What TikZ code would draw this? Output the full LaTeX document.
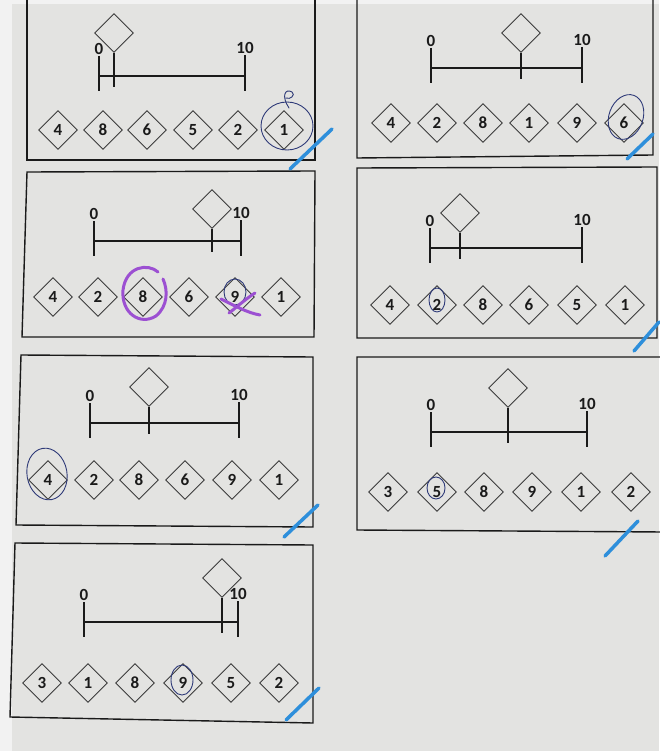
\documentclass[tikz,border=0pt]{standalone}
\usepackage{fontspec}
\setmainfont{Carlito}
\usetikzlibrary{shapes.geometric}
\definecolor{paper}{HTML}{E3E3E1}
\definecolor{strip}{HTML}{F2F2F2}
\definecolor{ink}{HTML}{1A1A1A}
\definecolor{tickblue}{HTML}{2E8FDB}
\definecolor{penblue}{HTML}{2E3A78}
\definecolor{penpurple}{HTML}{9C50D2}
\tikzset{
  boxline/.style={draw=ink, line width=1.4pt},
  numline/.style={draw=ink, line width=1.5pt},
  stemline/.style={draw=ink, line width=1.2pt},
  cell/.style={diamond, draw=ink!85, line width=0.9pt, minimum width=39pt, minimum height=39pt, inner sep=0pt, font=\bfseries\fontsize{17}{18}\selectfont, text=ink},
  lab/.style={anchor=south, inner sep=1pt, font=\bfseries\fontsize{17}{18}\selectfont, text=ink},
  okmark/.style={draw=tickblue, line width=3.5pt, line cap=round},
  pen/.style={draw=penblue, line width=0.9pt, line cap=round},
  purplepen/.style={draw=penpurple, line width=3pt, line cap=round, line join=round},
}
\newcommand\panel[8]{%
  \coordinate (#1L) at (#2,#4);
  \coordinate (#1R) at (#3,#4);
  \coordinate (#1Lt) at (#2,#4-20);
  \coordinate (#1Lb) at (#2,#4+15);
  \coordinate (#1Rt) at (#3,#4-21);
  \coordinate (#1Rb) at (#3,#4+15);
  \draw[numline] (#1L) -- (#1R);
  \draw[numline] (#1Lt) -- (#1Lb);
  \draw[numline] (#1Rt) -- (#1Rb);
  \node[lab] (#1zero) at (#1Lt) {0};
  \node[lab] (#1ten) at (#1Rt) {10};
  \node[cell] (#1m) at (#5,#6) {};
  \coordinate (#1mb) at (#5,#4+11);
  \draw[stemline] (#1m.south) -- (#1mb);
  \foreach \xx/\tt [count=\ii] in {#8} {\node[cell] (#1c\ii) at (\xx,#7) {\tt};}
}
\begin{document}
\begin{tikzpicture}[x=1pt,y=-1pt]
\useasboundingbox (0,0) rectangle (659,751);
\fill[strip] (0,0) rectangle (659,751);
\fill[paper] (12,4) rectangle (659,751);
% boxes
\draw[boxline] (27,-5) -- (27,160) -- (315,160) -- (315,-5);
\draw[boxline] (357,-5) -- (357,158) -- (653,155) -- (653,-5);
\draw[boxline] (27,172) -- (315,171) -- (314,337) -- (22,337) -- cycle;
\draw[boxline] (357,168) -- (657,167) -- (657,338) -- (357,338) -- cycle;
\draw[boxline] (21,355) -- (313,357) -- (313,527) -- (16,525) -- cycle;
\draw[boxline] (664,357) -- (357,357) -- (357,530) -- (664,532);
\draw[boxline] (15,543) -- (313,545) -- (313,723) -- (10,717) -- cycle;
% panels
\panel{A}{99}{245}{76}{114}{33}{130}{58/4,103/8,147/6,193/5,238/2,284/1}
\panel{B}{431}{582}{68}{521}{33}{123}{391/4,437/2,483/8,529/1,577/9,624/6}
\panel{C}{94}{241}{241}{212}{209}{297}{53/4,98/2,143/8,189/6,235/9,281/1}
\panel{D}{430}{582}{248}{460}{213}{305}{390/4,437/2,483/8,529/6,577/5,625/1}
\panel{E}{90}{239}{423}{149}{387}{480}{48/4,94/2,139/8,185/6,232/9,279/1}
\panel{F}{431}{587}{432}{508}{388}{492}{388/3,437/5,484/8,532/9,581/1,631/2}
\panel{G}{84}{238}{622}{222}{578}{683}{42/3,88/1,135/8,183/9,231/5,279/2}
% handwritten marks
\draw[pen] (287,126) ellipse [x radius=26, y radius=24];
\draw[pen] (289,108) .. controls (281,96) and (285,88) .. (292,92) .. controls (296,95) and (290,100) .. (286,98);
\draw[okmark] (290,169) -- (332,129);
\draw[pen, rotate around={-20:(626,117)}] (626,117) ellipse [x radius=17, y radius=23];
\draw[okmark] (627,159) -- (653,134);
\draw[purplepen] (158,272) .. controls (148,263) and (126,266) .. (123,290) .. controls (121,313) and (140,326) .. (156,316) .. controls (168,306) and (168,290) .. (163,279);
\draw[pen] (235,292) ellipse [x radius=11, y radius=13];
\draw[purplepen] (221,299) .. controls (235,306) and (248,313) .. (260,315);
\draw[purplepen] (229,313) .. controls (238,306) and (247,298) .. (255,293);
\draw[pen] (437,300) ellipse [x radius=8, y radius=12];
\draw[okmark] (634,351) -- (659,322);
\draw[pen, rotate around={10:(47,474)}] (47,474) ellipse [x radius=20, y radius=26];
\draw[okmark] (284,537) -- (318,505);
\draw[pen] (436,488) ellipse [x radius=9, y radius=11];
\draw[okmark] (605,556) -- (638,521);
\draw[pen] (182,680) ellipse [x radius=11, y radius=15];
\draw[okmark] (286,720) -- (319,688);
\end{tikzpicture}
\end{document}
